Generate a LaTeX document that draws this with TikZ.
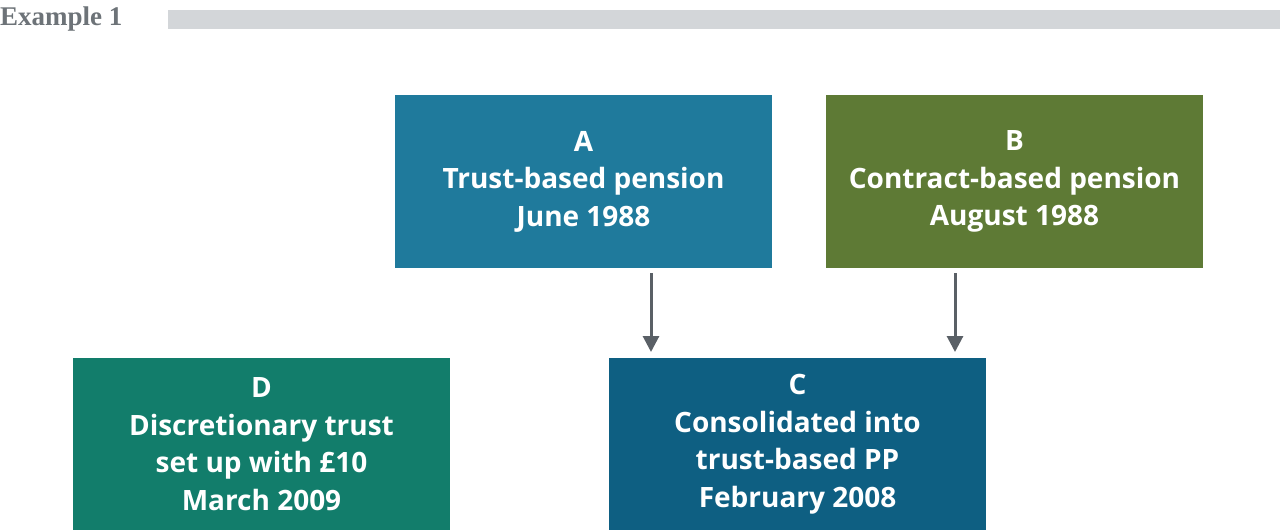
\documentclass[tikz,border=0pt]{standalone}
\usepackage{fontspec}
\setmainfont{Open Sans}
\newfontfamily\headfont{Liberation Serif}
\usetikzlibrary{arrows.meta}
\definecolor{cA}{HTML}{1F7A9C}
\definecolor{cB}{HTML}{5E7A35}
\definecolor{cC}{HTML}{0E5F82}
\definecolor{cD}{HTML}{127D6B}
\definecolor{arr}{HTML}{5A6066}
\definecolor{head}{HTML}{6D7378}
\definecolor{bar}{HTML}{D3D6D9}
\begin{document}
\begin{tikzpicture}[x=1pt,y=-1pt,
  box/.style={minimum width=377pt,minimum height=172pt,inner sep=0pt,text=white,align=center,font=\fontsize{28}{37.5}\selectfont\bfseries},
  conn/.style={draw=arr,line width=3pt,-{Triangle[length=16pt,width=16pt]}}]
\useasboundingbox (0,0) rectangle (1280,532);
\fill[bar] (168,10) rectangle (1280,29);
\node[anchor=west,inner sep=0pt,text=head,font=\headfont\fontsize{27}{27}\selectfont\bfseries] (h) at (0,19) {Example 1};
\node[box,fill=cA] (A) at (583.5,181.5) {A\\Trust-based pension\\June 1988};
\node[box,fill=cB] (B) at (1014.5,181.5) {B\\Contract-based pension\\August 1988};
\node[box,fill=cD] (D) at (261.5,444) {D\\Discretionary trust\\set up with £10\\March 2009};
\node[box,fill=cC] (C) at (797.5,444) {C\\Consolidated into\\trust-based PP\\February 2008};
\coordinate (a1) at (651,273); \coordinate (a2) at (651,352);
\coordinate (b1) at (955,273); \coordinate (b2) at (955,352);
\draw[conn] (a1) -- (a2);
\draw[conn] (b1) -- (b2);
\end{tikzpicture}
\end{document}
